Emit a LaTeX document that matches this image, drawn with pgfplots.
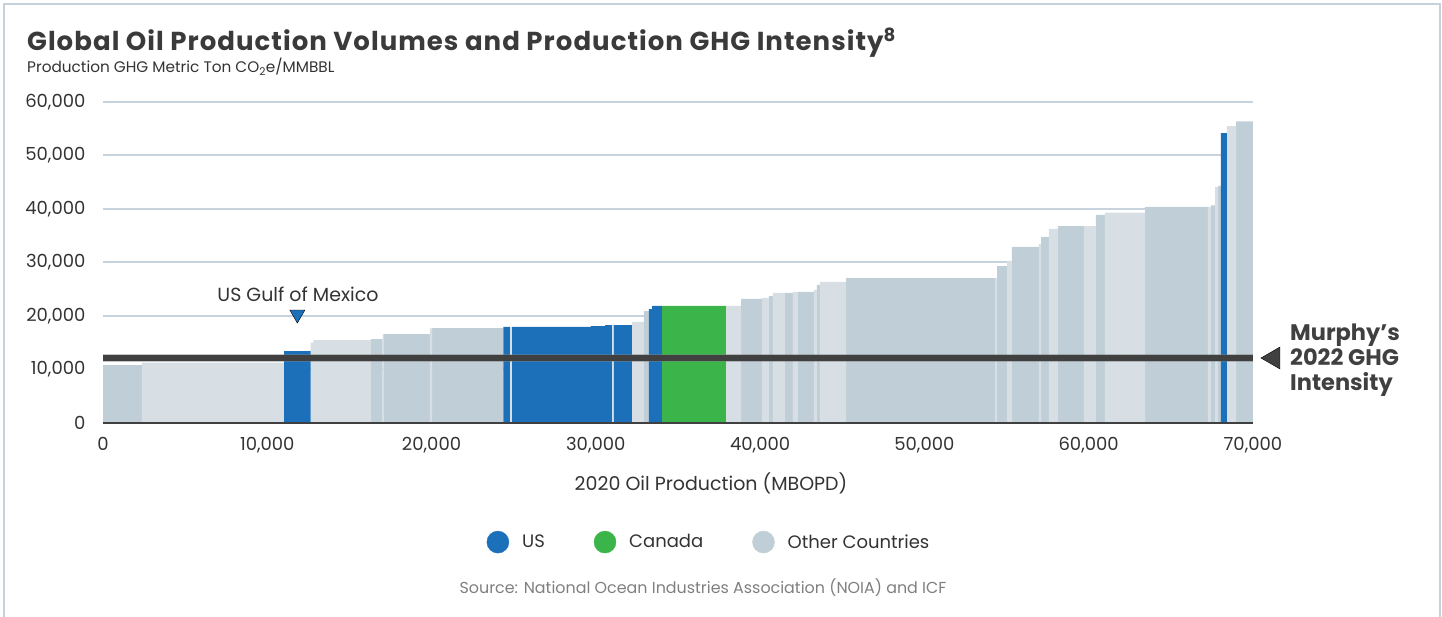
\documentclass[border=0pt]{standalone}
\usepackage{pgfplots}
\pgfplotsset{compat=1.18}
\usepackage{fontspec}
\setmainfont{Poppins}
\definecolor{usblue}{HTML}{1B70B9}
\definecolor{cangreen}{HTML}{3BB54A}
\definecolor{othdark}{HTML}{C0CED7}
\definecolor{othlight}{HTML}{D7DFE5}
\definecolor{gridc}{HTML}{C7D4DD}
\definecolor{axisc}{HTML}{404040}
\definecolor{txt}{HTML}{333333}
\definecolor{titlec}{HTML}{3A3A3A}
\definecolor{srcc}{HTML}{7F7F7F}
\definecolor{framec}{HTML}{C5D2DC}
\pgfkeys{/pgf/number format/.cd, 1000 sep={,}, assume math mode=true}

\begin{document}
\begin{tikzpicture}[x=1pt,y=1pt]
\path[use as bounding box] (0,0) rectangle (1442,617);
% open frame around the figure
\draw[framec, line width=2.5pt] (4,0) -- (4,613) -- (1440,613) -- (1440,0);

\node[anchor=base west, inner sep=0, text=titlec,
  font=\fontsize{26}{30}\selectfont\bfseries\addfontfeatures{LetterSpace=4}]
  at (27,566) {Global Oil Production Volumes and Production GHG Intensity\textsuperscript{8}};
\node[anchor=base west, inner sep=0, text=txt, font=\fontsize{15.3}{18}\selectfont]
  at (27,544) {Production GHG Metric Ton CO\textsubscript{2}e/MMBBL};

\begin{axis}[
  at={(103pt,194pt)}, anchor=south west,
  scale only axis, width=1150pt, height=321pt,
  xmin=0, xmax=70000, ymin=0, ymax=60000,
  axis lines*=left,
  x axis line style={draw=none},
  y axis line style={draw=none},
  xtick={0,10000,...,70000},
  ytick={0,10000,...,60000},
  scaled ticks=false,
  major tick length=0pt,
  ymajorgrids, grid style={gridc, line width=2pt},
  ticklabel style={font=\fontsize{18}{21}\selectfont, text=txt},
  yticklabel style={xshift=-14pt},
  xticklabel style={yshift=-11pt},
  clip=false,
  legend columns=3,
  legend style={at={(axis description cs:0.527,-0.371)}, anchor=center,
    draw=none, fill=none, font=\fontsize{18}{21}\selectfont, text=txt,
    /tikz/every odd column/.append style={column sep=11pt},
    /tikz/every even column/.append style={column sep=47pt}},
  legend image code/.code={\fill[#1] (0pt,0pt) circle (11pt);},
]
% other countries, darker shade
\addplot[forget plot, const plot, draw=none, fill=othdark] coordinates {
 (0,10800) (2360,0) (16310,15700) (17020,0) (17100,16600) (19900,0)
 (20030,17750) (24370,0) (32930,20900) (33230,0) (38840,23200) (40110,0)
 (40540,23700) (40780,0) (41510,24300) (42000,0) (42300,24500) (43270,0)
 (43450,25800) (43640,0) (45230,27100) (54300,0) (54420,29300) (55030,0)
 (55330,32900) (56970,0) (57100,34800) (57580,0) (58130,36800) (59710,0)
 (60440,38900) (60990,0) (63430,40400) (67260,0) (67440,40700) (67690,0)
 (67870,44300) (68050,0) (68970,56400) (70000,0)} \closedcycle;
% other countries, lighter shade
\addplot[forget plot, const plot, draw=none, fill=othlight] coordinates {
 (2360,11300) (11020,0) (12640,15000) (12800,15500) (16310,0) (17020,16600)
 (17100,0) (19900,17700) (20030,0) (24770,17900) (24900,0) (30980,18300)
 (31100,0) (32200,18900) (32930,0) (37920,21900) (38840,0) (40110,23400)
 (40540,0) (40780,24300) (41510,0) (42000,24500) (42300,0) (43270,24900)
 (43450,0) (43640,26400) (45230,0) (54300,27100) (54420,0) (55030,30300)
 (55330,0) (56970,33500) (57100,0) (57580,36300) (58130,0) (59710,36800)
 (60440,0) (60990,39300) (63430,0) (67260,40400) (67440,0) (67690,44100)
 (67870,0) (68420,55500) (68970,0)} \closedcycle;
% US
\addplot[forget plot, const plot, draw=none, fill=usblue] coordinates {
 (11020,13450) (12640,0) (24370,17950) (24770,0) (24900,17950) (29700,18100)
 (30560,18300) (30980,0) (31100,18300) (32200,0) (33230,21300) (33420,21900)
 (34030,0) (68050,54200) (68420,0)} \closedcycle;
% Canada
\addplot[forget plot, const plot, draw=none, fill=cangreen] coordinates {
 (34030,21900) (37920,0)} \closedcycle;

% x axis line
\draw[axisc, line width=2.5pt] (axis cs:0,0) -- (axis cs:70000,0);

% Murphy's 2022 GHG intensity
\addplot[forget plot, draw=gray, opacity=0.45, line width=8.6pt] coordinates {(0,12150) (70000,12150)};
\addplot[forget plot, draw=axisc, line width=6.2pt] coordinates {(0,12150) (70000,12150)};
\addplot[forget plot, only marks, mark=triangle*, mark size=12.7pt,
  mark options={rotate=90, fill=axisc, draw=none}] coordinates {(71260,12150)};

% US Gulf of Mexico marker
\addplot[forget plot, only marks, mark=triangle*, mark size=8.7pt,
  mark options={rotate=180, fill=usblue, draw=none}] coordinates {(11830,20300)};

\addlegendimage{usblue}\addlegendentry{US}
\addlegendimage{cangreen}\addlegendentry{Canada}
\addlegendimage{othdark}\addlegendentry{Other Countries}
\end{axis}

\node[text=txt, font=\fontsize{19}{22}\selectfont] at (298,323) {US Gulf of Mexico};
\node[anchor=west, align=left, inner sep=0, text=axisc, font=\fontsize{22.5}{25}\selectfont\bfseries]
  at (1290,257) {Murphy’s\\2022 GHG\\Intensity};
\node[text=txt, font=\fontsize{19}{22}\selectfont] at (711,134) {2020 Oil Production (MBOPD)};
\node[text=srcc, font=\fontsize{15.9}{19}\selectfont] at (703,29)
  {Source: National Ocean Industries Association (NOIA) and ICF};
\end{tikzpicture}
\end{document}
